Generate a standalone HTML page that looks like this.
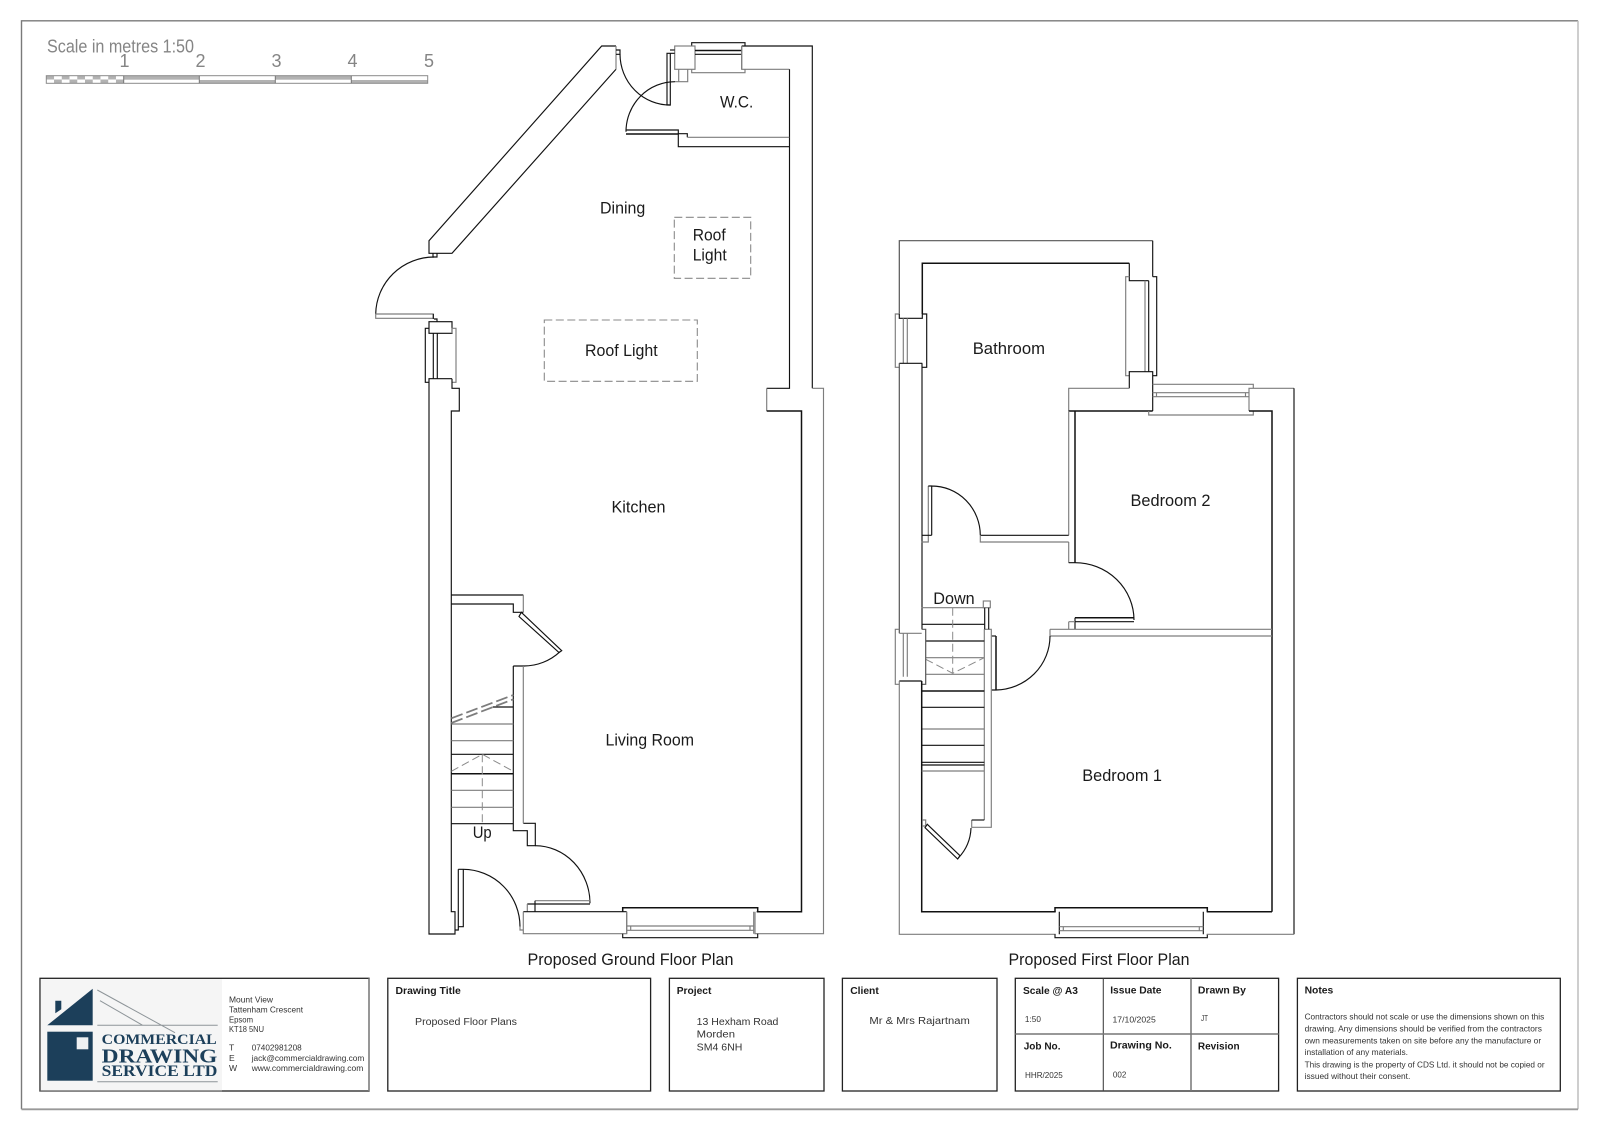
<!DOCTYPE html>
<html><head><meta charset="utf-8"><title>Proposed Floor Plans</title>
<style>
html,body{margin:0;padding:0;background:#fff;width:1600px;height:1131px;overflow:hidden}
svg{display:block}
text{font-family:"Liberation Sans",sans-serif;fill:#1a1a1a}
.k{fill:none;stroke:#111;stroke-width:1.15}
.g{fill:none;stroke:#7d7d7d;stroke-width:1.15}
.d{fill:none;stroke:#555;stroke-width:1.2}
.t{stroke-width:1.5}
.l{font-size:17px}
.s{font-size:8.6px;fill:#333}
.b{font-size:10.4px;font-weight:bold}
.m{font-size:10px;fill:#333}
.x{font-size:8.2px;fill:#333}
.sb{font-size:18px;fill:#858585}
.lg{font-family:"Liberation Serif",serif;font-weight:bold;fill:#1c3f5a}
</style></head><body>
<svg width="1600" height="1131" viewBox="0 0 1600 1131" xmlns="http://www.w3.org/2000/svg">
<rect width="1600" height="1131" fill="#fff"/>
<!-- frame -->
<path d="M21.5 1109.3V20.8H1578" fill="none" stroke="#7a7a7a" stroke-width="1.4"/>
<path d="M1578 20.8V1109.3" fill="none" stroke="#bdbdbd" stroke-width="1.5"/>
<path d="M21.5 1109.3H1578" fill="none" stroke="#999" stroke-width="1.9"/>

<!-- scale bar -->
<text class="sb" x="47" y="52.7" textLength="147" lengthAdjust="spacingAndGlyphs">Scale in metres 1:50</text>
<text class="sb" x="124.5" y="67" text-anchor="middle">1</text><text class="sb" x="200.5" y="67" text-anchor="middle">2</text><text class="sb" x="276.5" y="67" text-anchor="middle">3</text><text class="sb" x="352.5" y="67" text-anchor="middle">4</text><text class="sb" x="429" y="67" text-anchor="middle">5</text>
<g>
<rect x="46.3" y="75.7" width="381.4" height="7.6" fill="#fff"/>
<rect x="123.7" y="75.7" width="75.6" height="4" fill="#b2b2b2"/>
<rect x="199.3" y="80" width="76" height="3.3" fill="#b2b2b2"/>
<rect x="275.3" y="75.7" width="76" height="4" fill="#b2b2b2"/>
<rect x="351.3" y="80" width="76.4" height="3.3" fill="#b2b2b2"/>
<g fill="#b2b2b2">
<rect x="46.3" y="75.7" width="7.74" height="3.8"/><rect x="61.78" y="75.7" width="7.74" height="3.8"/><rect x="77.26" y="75.7" width="7.74" height="3.8"/><rect x="92.74" y="75.7" width="7.74" height="3.8"/><rect x="108.22" y="75.7" width="7.74" height="3.8"/>
<rect x="54.04" y="79.5" width="7.74" height="3.8"/><rect x="69.52" y="79.5" width="7.74" height="3.8"/><rect x="85" y="79.5" width="7.74" height="3.8"/><rect x="100.48" y="79.5" width="7.74" height="3.8"/><rect x="115.96" y="79.5" width="7.74" height="3.8"/>
</g>
<rect x="46.3" y="75.7" width="381.4" height="7.6" fill="none" stroke="#8a8a8a" stroke-width="1"/>
<path d="M123.7 75.7v7.6M199.3 75.7v7.6M275.3 75.7v7.6M351.3 75.7v7.6" stroke="#777" fill="none"/>
</g>

<!-- GROUND FLOOR -->
<g>
<!-- diagonal wall -->
<path class="k" d="M616 46H601.7L429 240.7V253.3H452L616 69.3"/>
<path class="g" d="M616 46V69.3"/>
<path class="k" d="M616 50h4v4.3h-4"/>
<path class="k" d="M620 54.3A50 51 0 0 0 670.3 105"/>
<!-- wc wall -->
<path class="k" d="M741.7 46H812.3V388.3"/>
<path class="g" d="M741.7 46V69.3H789.3"/>
<path class="k" d="M789.5 69.3V388.3H766.7"/>
<path class="g" d="M766.7 388.3V411"/>
<path class="k t" d="M766.7 411H801.5V911.7H756.7"/>
<path class="g" d="M812.3 388.3H823.5V933.7H755V911.7"/>
<!-- wc window -->
<path class="k" d="M691.7 46V42.7H745V46"/>
<path class="g" d="M691.7 69.3V72.7H745V69.3"/>
<rect class="g" x="674.7" y="46" width="20.3" height="23.3" fill="#fff" style="fill:#fff"/>
<path class="k t" d="M695 50.5H741.7"/><path class="k" d="M695 54.3H741.7"/>
<path class="g" d="M741.7 46V69.3"/>
<path class="k" d="M674.7 53.3H667V105H670.3V53.3"/>
<path class="k" d="M674.7 50H670"/>
<path class="g" d="M678.7 69.3V81.7M687.7 69.3V81.7H675"/>
<!-- wc door -->
<path class="k" d="M626 131.7A49 50 0 0 1 675 81.7"/>
<path class="k" d="M626 130H678.3V146.7H789.5"/>
<path class="k t" d="M626 134H678.3"/>
<path class="k" d="M678.3 133.7H687.3V137.3"/>
<path class="g" d="M687.3 137.3H789.3"/>

<!-- back door -->
<path class="k" d="M433 253.3v3.7h4v-3.7"/>
<path class="k" d="M434 257A58.5 58 0 0 0 375.7 314"/>
<path class="g" d="M375.7 314V318.3H433.3V314Z"/>
<path class="k" d="M433.3 314V319"/>
<path class="k" d="M434 319h3v3"/>
<!-- side window -->
<rect class="k" x="429" y="321.7" width="23" height="11.6"/>
<path class="k" d="M429 328.3H425.3V382.3H429"/>
<path class="g" d="M452 333.3V328.3H456V382.3H452"/>
<path class="k" d="M433.3 333.3V378.7M437.3 333.3V378.7"/>
<path class="k" d="M452 378.7H429V934H455V911.7H451.3V411H459.3V388.3H452V378.7"/>

<!-- stair enclosure -->
<path class="k" d="M451.3 595H523.3"/>
<path class="g" d="M523.3 595V612.3"/>
<path class="k" d="M451.3 604H513.3V612.3H523.3"/>
<path class="k" d="M521.3 612.3L561.7 650.7L559 652.5L519 616.5Z"/>
<path class="k" d="M560 651.7A53 53 0 0 1 523.3 666H513.3"/>
<path class="k" d="M513.3 666V830.7H527.3V845.7H535.3V823.3H523.3"/>
<path class="g" d="M523.3 666V823.3"/>
<!-- stairs -->
<path class="g" d="M451.3 724H513.3M451.3 740.7H513.3M451.3 790.3H513.3M451.3 807.3H513.3"/>
<path class="k" d="M451.3 754.3H513.3M451.3 823.7H513.3M492.7 707H513.3"/>
<path class="k t" d="M451.3 773.7H513.3"/>
<path stroke="#7d7d7d" stroke-width="1.8" fill="none" stroke-dasharray="12 4" d="M451.3 718.3L513.3 695M451.3 723L513.3 699.3"/>
<path stroke="#8a8a8a" stroke-width="1" fill="none" stroke-dasharray="8 4" d="M451.3 771.3L482.3 754.3L513.3 771.3M482.3 754.3V823.7"/>
<!-- front door right -->
<path class="k" d="M535.3 845.7A55 57.6 0 0 1 590 903.3"/>
<path class="g" d="M535 900.7H590"/>
<path class="k" d="M527.3 904H590M535 900.7V911.7"/>
<path class="g" d="M527.3 904V911.7"/>
<!-- front door left -->
<path class="k" d="M458.3 869.3V930H455M463.3 869.3V926.7H458.3"/>
<path class="k" d="M458.3 869.3H463.3A57 57.4 0 0 1 520 926.7"/>
<path class="g" d="M520 926.7v3.3h3.3"/>
<!-- front wall -->
<path class="k" d="M523.3 911.7H626.7"/>
<path class="g" d="M523.3 911.7V933.7H626.7V911.7"/>
<!-- front window -->
<path class="k t" d="M622.7 911.7V907.7H757.7V911.7"/>
<path class="k" d="M622.7 933.7V937.7H757.7V933.7"/>
<path class="g" d="M626.7 911.7V933.7M753.7 911.7V933.7M626.7 926H753.7M626.7 930.3H753.7M630.7 926V930.3M750 926V930.3"/>
<!-- roof lights -->
<path stroke="#8a8a8a" stroke-width="1.1" stroke-dasharray="8 3.5" fill="none" d="M674.3 217.3H750.7V278.3H674.3ZM544.3 320H697.3V381.3H544.3Z"/>
</g>

<!-- labels -->
<g class="l">
<text x="720" y="107.3" textLength="33.3" lengthAdjust="spacingAndGlyphs">W.C.</text>
<text x="600" y="213.3" textLength="45.3" lengthAdjust="spacingAndGlyphs">Dining</text>
<text x="692.7" y="240.7" textLength="33" lengthAdjust="spacingAndGlyphs">Roof</text>
<text x="692.7" y="260.5" textLength="34" lengthAdjust="spacingAndGlyphs">Light</text>
<text x="585" y="356" textLength="72.7" lengthAdjust="spacingAndGlyphs">Roof Light</text>
<text x="611.5" y="512.5" textLength="54" lengthAdjust="spacingAndGlyphs">Kitchen</text>
<text x="605.5" y="745.7" textLength="88.5" lengthAdjust="spacingAndGlyphs">Living Room</text>
<text x="472.7" y="838" textLength="19" lengthAdjust="spacingAndGlyphs">Up</text>
<text x="527.5" y="965" textLength="206" lengthAdjust="spacingAndGlyphs">Proposed Ground Floor Plan</text>
<text x="972.7" y="354" textLength="72.3" lengthAdjust="spacingAndGlyphs">Bathroom</text>
<text x="1130.5" y="506" textLength="80" lengthAdjust="spacingAndGlyphs">Bedroom 2</text>
<text x="933.3" y="604" textLength="41.4" lengthAdjust="spacingAndGlyphs">Down</text>
<text x="1082.3" y="781" textLength="79.7" lengthAdjust="spacingAndGlyphs">Bedroom 1</text>
<text x="1008.5" y="965" textLength="181" lengthAdjust="spacingAndGlyphs">Proposed First Floor Plan</text>
</g>

<!-- FIRST FLOOR -->
<g>
<path class="d" d="M899.3 314V240.7H1152.7"/>
<path class="k" d="M1152.7 240.7V276.7"/>
<path class="k t" d="M922.3 314V263.3H1129.3"/>
<path class="k" d="M1129.3 263.3V280.7H1148.7"/>
<!-- right bath window -->
<path class="g" d="M1129.3 276.7H1125.7V375.7H1129.3"/>
<path class="k" d="M1152.7 276.7H1156.7V375.7H1152.7"/>
<path class="k" d="M1148.7 280.7V371.7"/>
<path class="g" d="M1145 280.7V371.7"/>
<path class="k" d="M1129.3 388.3V371.7H1152.7V411"/>
<path class="g" d="M1129.3 388.3H1068.7V411"/>
<path class="k t" d="M1068.7 411H1152.7"/>
<!-- bed2 window -->
<path class="g" d="M1148.7 411V415H1253.3V411M1152.7 384.3H1253.3V388.3M1152.7 392.7H1249M1152.7 396.7H1249M1156.5 392.7V396.7M1245.5 392.7V396.7"/>
<path class="g" d="M1294 388.3H1249V411"/>
<path class="k t" d="M1249 411H1272V911.7"/>
<path class="k" d="M1294 388.3V934.3"/>
<!-- left bath window -->
<path class="k" d="M922.3 314H926.7V367.3H922.3"/>
<path class="g" d="M899.3 314H895.3V367.3H899.3"/>
<path class="k" d="M899.3 314V318.3H922.3V314"/>
<path class="g" d="M903.3 318.3V363.3M907.3 318.3V363.3"/>
<path class="k" d="M899.3 363.3H922.3"/>
<path class="k" d="M922 363.3V629.3"/>
<path class="d" d="M899.3 363.3V633.3"/>
<!-- partition -->
<path class="g" d="M1068.7 411V535.3M1068.7 542V562.7"/>
<path class="k t" d="M1075 411V562.7"/>
<!-- door 1 -->
<path class="g" d="M928.3 486V542H921.7"/>
<path class="k" d="M931.7 535.3V486H928.3M931.7 486A48.6 49.3 0 0 1 980.3 535.3M921.7 535.3H931.7"/>
<path class="k" d="M980.3 535.3H1068.7"/>
<path class="g" d="M980.3 535.3V542H1068.7"/>
<!-- door 2 -->
<path class="k" d="M1068.7 562.7H1075A59 57.5 0 0 1 1134 620"/>
<path class="k t" d="M1075 617.7H1134"/>
<path class="k" d="M1075 621.7H1134M1075 617.7V629.3"/>
<path class="g" d="M1068.7 621.7H1075M1068.7 621.7V629.3"/>
<path class="g" d="M1050 629.3H1272M1050 636H1272M1050 629.3V636"/>
<!-- door 3 -->
<path class="k" d="M1050 636A55 54 0 0 1 996 690H991.7"/>
<path class="k t" d="M996 636V690"/>
<path class="k" d="M991.7 636H996"/>
<!-- stair right wall -->
<path class="g" d="M984.3 629.3H991.3V827.3H971.7V820M984.3 629.3V771M984.3 771V820"/>
<path class="k" d="M971.7 820H984.3"/>
<rect class="g" x="983.3" y="601" width="7" height="6.7"/>
<path class="k" d="M984.7 607.7V629.3M988.7 607.7V629.3"/>
<!-- stair treads -->
<path class="g" d="M921.7 607.7H984.3M925.7 657.7H984.3M925.7 674.3H984.3M921.7 729H984.3"/>
<path class="k" d="M921.7 624.3H984.3M925.7 641H984.3M921.7 707.3H984.3M921.7 745.3H984.3M921.7 762.3H984.3M921.7 765H984.3"/>
<path class="k t" d="M921.7 691H984.3"/>
<path stroke="#8a8a8a" stroke-width="1" fill="none" stroke-dasharray="8 4" d="M952.7 607.7V673.3M925.7 659.3L952.7 673.3L984.3 657.7"/>
<!-- left lower window -->
<path class="g" d="M899.3 629.3H895.3V684.3H899.3"/>
<path class="d" d="M921.7 629.3H925.7V684.3H921.7"/>
<path class="g" d="M899.3 633.3H921.7M903.3 633.3V676.7M907.3 633.3V676.7"/>
<path class="k" d="M899.3 681H921.7"/>
<path class="g" d="M899.3 681V934.3H1055.7"/>
<path class="k t" d="M921.7 681V911.7H1055.7"/>
<!-- closet -->
<path class="g" d="M921.7 771H984.3"/>
<path class="g" d="M922 820h3.7v6h-3.7"/>
<path class="k" d="M927.3 824.3L960 855.7L957.7 859L925 827.7Z"/>
<path class="k" d="M971 828A46 46 0 0 1 958.3 858"/>
<!-- first window -->
<path class="k t" d="M1055 911.7V907.7H1207.3V911.7"/>
<path class="k" d="M1055 934.3V937.7H1207.3V934.3"/>
<path class="k" d="M1059.3 911.7V934.3M1203.3 911.7V934.3"/>
<path class="g" d="M1059.3 926.7H1203.3M1059.3 930.7H1203.3M1063.3 926.7V930.7M1199.3 926.7V930.7"/>
<path class="k t" d="M1206.7 911.7H1272"/>
<path class="g" d="M1206.7 934.3H1294"/>
</g>

<!-- TITLE BLOCK -->
<g>
<!-- logo box -->
<rect x="40" y="978.3" width="329" height="112.7" fill="#fff" stroke="#222" stroke-width="1.3"/>
<path d="M369 978.3V1091" stroke="#8a8a8a" stroke-width="1.5"/>
<path d="M40 1091H222" stroke="#6a6a6a" stroke-width="1.3"/>
<rect x="40.8" y="979.2" width="181.2" height="111" fill="#f5f5f5"/>
<path d="M47.3 1025.3L92.7 988.7V1025.3Z" fill="#1c3f5a"/>
<path d="M55.3 1000.7H61.3V1009.3L55.3 1013.3Z" fill="#1c3f5a"/>
<rect x="47.3" y="1031.7" width="45.4" height="49" fill="#1c3f5a"/>
<rect x="76.7" y="1037.3" width="11.6" height="12" fill="#eef0f2"/>
<path d="M97.3 990L175 1032.7M100 1000.7L142.7 1025.3M97.3 1025.3H217.7M97.3 1081.7H217.7" stroke="#8e9599" stroke-width="1" fill="none"/>
<text class="lg" x="101.7" y="1044" font-size="15" textLength="115" lengthAdjust="spacingAndGlyphs">COMMERCIAL</text>
<text class="lg" x="101.7" y="1062.3" font-size="20" textLength="115.7" lengthAdjust="spacingAndGlyphs">DRAWING</text>
<text class="lg" x="101.7" y="1076" font-size="15.5" textLength="115.7" lengthAdjust="spacingAndGlyphs">SERVICE LTD</text>
<g class="s">
<text class="s" x="229" y="1002.7" textLength="44" lengthAdjust="spacingAndGlyphs">Mount View</text>
<text class="s" x="229" y="1012.7" textLength="74" lengthAdjust="spacingAndGlyphs">Tattenham Crescent</text>
<text class="s" x="229" y="1022.3" textLength="24" lengthAdjust="spacingAndGlyphs">Epsom</text>
<text class="s" x="229" y="1032" textLength="35" lengthAdjust="spacingAndGlyphs">KT18 5NU</text>
<text class="s" x="229" y="1050.7">T</text>
<text class="s" x="229" y="1061">E</text>
<text class="s" x="229" y="1071">W</text>
<text class="s" x="251.7" y="1050.7" textLength="50" lengthAdjust="spacingAndGlyphs">07402981208</text>
<text class="s" x="251.7" y="1061" textLength="112.6" lengthAdjust="spacingAndGlyphs">jack@commercialdrawing.com</text>
<text class="s" x="251.7" y="1071" textLength="111.6" lengthAdjust="spacingAndGlyphs">www.commercialdrawing.com</text>
</g>

<!-- boxes -->
<g fill="none" stroke="#222" stroke-width="1.3">
<rect x="387.8" y="978.3" width="262.8" height="112.7"/>
<rect x="669.4" y="978.3" width="154.6" height="112.7"/>
<rect x="842.4" y="978.3" width="154.6" height="112.7"/>
<rect x="1015.3" y="978.3" width="263.3" height="112.7"/>
<rect x="1297.4" y="978.3" width="262.9" height="112.7"/>
</g>
<path d="M1103.3 978.3V1091" stroke="#444" stroke-width="1.1"/>
<path d="M1191 978.3V1091M1015.3 1034H1278.6" stroke="#777" stroke-width="1.5"/>

<text class="b" x="395.5" y="994" textLength="65.3" lengthAdjust="spacingAndGlyphs">Drawing Title</text>
<text class="m" x="415" y="1025" textLength="102" lengthAdjust="spacingAndGlyphs">Proposed Floor Plans</text>
<text class="b" x="676.7" y="994" textLength="34.7" lengthAdjust="spacingAndGlyphs">Project</text>
<text class="m" x="696.7" y="1025" textLength="81.7" lengthAdjust="spacingAndGlyphs">13 Hexham Road</text>
<text class="m" x="696.7" y="1037.5" textLength="38.3" lengthAdjust="spacingAndGlyphs">Morden</text>
<text class="m" x="696.7" y="1050.7" textLength="45.7" lengthAdjust="spacingAndGlyphs">SM4 6NH</text>
<text class="b" x="850.2" y="994" textLength="28.6" lengthAdjust="spacingAndGlyphs">Client</text>
<text class="m" x="869.4" y="1024" textLength="100.4" lengthAdjust="spacingAndGlyphs">Mr &amp; Mrs Rajartnam</text>

<text class="b" x="1023" y="994" textLength="55" lengthAdjust="spacingAndGlyphs">Scale @ A3</text>
<text class="b" x="1110.2" y="993.3" textLength="51.3" lengthAdjust="spacingAndGlyphs">Issue Date</text>
<text class="b" x="1197.9" y="993.3" textLength="48.1" lengthAdjust="spacingAndGlyphs">Drawn By</text>
<text class="x" x="1024.9" y="1022" textLength="16" lengthAdjust="spacingAndGlyphs">1:50</text>
<text class="x" x="1112.5" y="1022.3" textLength="43.3" lengthAdjust="spacingAndGlyphs">17/10/2025</text>
<text class="x" x="1201" y="1021" textLength="7" lengthAdjust="spacingAndGlyphs">JT</text>
<text class="b" x="1023.7" y="1049.3" textLength="36.8" lengthAdjust="spacingAndGlyphs">Job No.</text>
<text class="b" x="1110" y="1048.7" textLength="61.8" lengthAdjust="spacingAndGlyphs">Drawing No.</text>
<text class="b" x="1197.9" y="1049.3" textLength="41.7" lengthAdjust="spacingAndGlyphs">Revision</text>
<text class="x" x="1025" y="1078" textLength="37.8" lengthAdjust="spacingAndGlyphs">HHR/2025</text>
<text class="x" x="1112.9" y="1077.3" textLength="13.4" lengthAdjust="spacingAndGlyphs">002</text>

<text class="b" x="1304.6" y="993.3" textLength="28.7" lengthAdjust="spacingAndGlyphs">Notes</text>
<g>
<text class="x" x="1304.6" y="1019.3" textLength="239.6" lengthAdjust="spacingAndGlyphs">Contractors should not scale or use the dimensions shown on this</text>
<text class="x" x="1304.6" y="1031.7" textLength="237.3" lengthAdjust="spacingAndGlyphs">drawing. Any dimensions should be verified from the contractors</text>
<text class="x" x="1304.6" y="1043.3" textLength="236.5" lengthAdjust="spacingAndGlyphs">own measurements taken on site before any the manufacture or</text>
<text class="x" x="1304.6" y="1055" textLength="103.4" lengthAdjust="spacingAndGlyphs">installation of any materials.</text>
<text class="x" x="1304.6" y="1067.3" textLength="240" lengthAdjust="spacingAndGlyphs">This drawing is the property of CDS Ltd. it should not be copied or</text>
<text class="x" x="1304.6" y="1079" textLength="105.7" lengthAdjust="spacingAndGlyphs">issued without their consent.</text>
</g>
</g>
</svg>
</body></html>
